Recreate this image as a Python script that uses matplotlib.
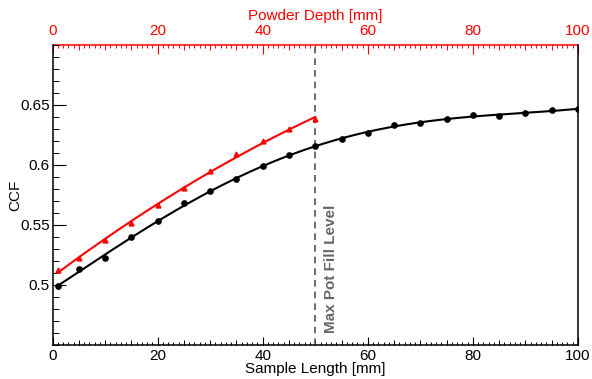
import numpy as np
import matplotlib
matplotlib.use("Agg")
import matplotlib.pyplot as plt
from matplotlib.ticker import MultipleLocator, FixedLocator, FuncFormatter

plt.rcParams['font.family'] = ['Liberation Sans', 'DejaVu Sans']

# ------------------------------------------------------------
# data
# ------------------------------------------------------------
sample_len = [1, 5, 10, 15, 20, 25, 30, 35, 40, 45, 50,
              55, 60, 65, 70, 75, 80, 85, 90, 95, 100]
ccf_sample = [0.499, 0.513, 0.5225, 0.540, 0.553, 0.568, 0.578, 0.588, 0.599, 0.608, 0.616,
              0.622, 0.627, 0.633, 0.635, 0.638, 0.642, 0.641, 0.643, 0.6456, 0.6467]

powder_depth = [1, 5, 10, 15, 20, 25, 30, 35, 40, 45, 50]
ccf_powder = [0.5125, 0.5222, 0.5375, 0.5517, 0.5664, 0.5806, 0.5947, 0.609, 0.6197, 0.6297, 0.638]

ccf_ticks = [0.5, 0.55, 0.6, 0.65]

fill_level = 50
fill_label = "Max Pot Fill Level"

# fitted curves through the points
black_fit = np.poly1d(np.polyfit(sample_len, ccf_sample, 4))
red_fit = np.poly1d(np.polyfit(powder_depth, ccf_powder, 2))
xb = np.linspace(sample_len[0], sample_len[-1], 300)
xr = np.linspace(powder_depth[0], powder_depth[-1], 200)

fig = plt.figure(figsize=(5.92, 3.79), dpi=100)
ax = fig.add_axes([52.5 / 592, 1 - 345 / 379, (578 - 52.5) / 592, 300 / 379])

ax.plot(xb, black_fit(xb), color='black', lw=1.5, zorder=3)
ax.plot(sample_len, ccf_sample, 'o', color='black', ms=3.8, zorder=4)
ax.plot(xr, red_fit(xr), color='red', lw=1.5, zorder=3)
ax.plot(powder_depth, ccf_powder, '^', color='red', ms=3.5, zorder=4)

ax.axvline(fill_level, color='#555555', lw=1.2, ls=(0, (4, 3)), zorder=2)
ax.text(fill_level + 3, 0.46, fill_label, rotation=90, ha='center', va='bottom',
        color='#666666', fontsize=11, fontweight='bold')

ax.set_xlim(0, 100)
ax.set_ylim(0.45, 0.70)

for s in ax.spines.values():
    s.set_linewidth(1.1)
ax.spines['top'].set_visible(False)

fmt = FuncFormatter(lambda v, p: ('%g' % round(v, 3)))

# bottom axis
ax.xaxis.set_major_locator(MultipleLocator(20))
ax.xaxis.set_minor_locator(MultipleLocator(1))
ax.tick_params(axis='x', which='major', direction='in', length=6, width=0.8,
               labelsize=11, pad=3, top=False)
ax.tick_params(axis='x', which='minor', direction='in', length=2.2, width=0.7, top=False)
mid_b = ax.secondary_xaxis('bottom')
mid_b.xaxis.set_major_locator(MultipleLocator(5))
mid_b.tick_params(direction='in', length=3.6, width=0.7, labelbottom=False)
mid_b.spines['bottom'].set_visible(False)

# left axis
ax.yaxis.set_major_locator(FixedLocator(ccf_ticks))
ax.yaxis.set_minor_locator(MultipleLocator(0.01))
ax.yaxis.set_major_formatter(fmt)
ax.tick_params(axis='y', which='major', direction='in', length=9, width=0.8,
               labelsize=11, pad=2, right=False)
ax.tick_params(axis='y', which='minor', direction='in', length=4.3, width=0.7, right=False)

ax.set_xlabel("Sample Length [mm]", fontsize=11, labelpad=-1)
ax.set_ylabel("CCF", fontsize=11, labelpad=-1.5)

# top axis (powder depth)
top = ax.secondary_xaxis('top')
top.spines['top'].set_color('red')
top.spines['top'].set_linewidth(1.1)
top.xaxis.set_major_locator(MultipleLocator(20))
top.xaxis.set_minor_locator(MultipleLocator(1))
top.tick_params(axis='x', which='major', direction='in', length=6.5, width=0.8,
                colors='red', labelsize=11, pad=5)
top.tick_params(axis='x', which='minor', direction='in', length=2.2, width=0.7, colors='red')
top.set_xlabel("Powder Depth [mm]", color='red', fontsize=11, labelpad=3)
mid_t = ax.secondary_xaxis('top')
mid_t.xaxis.set_major_locator(MultipleLocator(5))
mid_t.tick_params(direction='in', length=3.6, width=0.7, colors='red', labeltop=False)
mid_t.spines['top'].set_visible(False)

fig.savefig("out.png", dpi=100)
